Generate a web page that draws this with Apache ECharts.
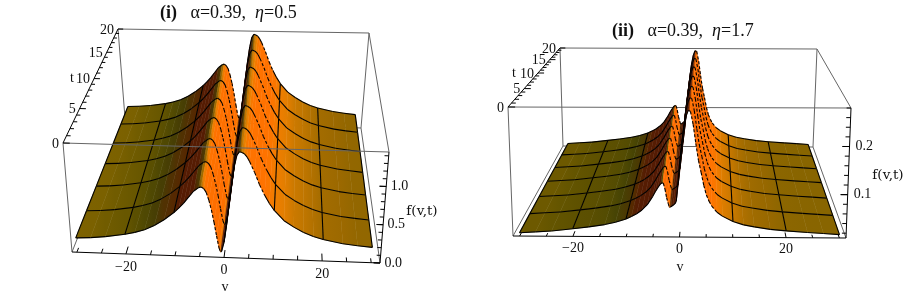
<!DOCTYPE html>
<html><head><meta charset="utf-8">
<style>html,body{margin:0;padding:0;background:#fff}#c{width:905px;height:297px}</style>
<script src="https://cdn.jsdelivr.net/npm/echarts@6/dist/echarts.min.js"></script>
</head><body><div id="c"></div>
<script>
// ---------- data ----------
const tMesh = [0, 3.33, 6.67, 10, 13.33, 16.67, 20];
const vMeshLines = [-30, -20, -10, 0, 10, 20, 30];
const vTicks = [-30, -25, -20, -15, -10, -5, 0, 5, 10, 15, 20, 25, 30];
const vTickLabels = [-20, 0, 20];
const tTicks = [0,1,2,3,4,5,6,7,8,9,10,11,12,13,14,15,16,17,18,19,20];
const tTickLabels = [0, 5, 10, 15, 20];

const panel1V = [-30,-27,-24,-20,-18,-16,-14,-12,-10,-9,-8,-7,-6,-5,-4.5,-4,-3.5,-3,-2.5,-2,-1.5,-1,-0.7,-0.5,0,0.5,1,1.5,2,2.5,3,3.5,4,4.5,5,6,7,8,9,10,12,14,16,18,20,24,27,30];
const panel1F = [0.19,0.20,0.22,0.26,0.29,0.33,0.39,0.47,0.57,0.63,0.70,0.78,0.86,0.91,0.92,0.90,0.85,0.75,0.62,0.46,0.28,0.12,0.07,0.08,0.20,0.42,0.70,0.98,1.20,1.35,1.40,1.39,1.37,1.33,1.27,1.13,0.97,0.84,0.73,0.64,0.51,0.43,0.365,0.315,0.28,0.235,0.215,0.20];
const panel1FTicks = [0,0.1,0.2,0.3,0.4,0.5,0.6,0.7,0.8,0.9,1,1.1,1.2,1.3,1.4];
const panel1FLabels = [0, 0.5, 1];

const panel2V = [-30,-27,-24,-20,-17,-14,-12,-10,-9,-8,-7,-6,-5,-4.5,-4,-3.5,-3.2,-3,-2.7,-2.4,-2.1,-1.9,-1.6,-1.2,-0.8,-0.6,-0.4,0,0.4,0.8,1.2,1.6,2,2.5,3,3.5,4,4.5,5,5.5,6,7,8,10,12,14,17,20,24,27,30];
const panel2F = [0.017,0.019,0.021,0.026,0.030,0.035,0.040,0.047,0.052,0.058,0.066,0.077,0.094,0.104,0.113,0.121,0.123,0.122,0.110,0.092,0.080,0.072,0.073,0.076,0.080,0.085,0.110,0.160,0.205,0.240,0.262,0.274,0.272,0.245,0.205,0.170,0.145,0.118,0.098,0.085,0.075,0.062,0.054,0.043,0.036,0.032,0.027,0.024,0.021,0.019,0.017];
const panel2FTicks = [0.02,0.04,0.06,0.08,0.1,0.12,0.14,0.16,0.18,0.2,0.22,0.24,0.26,0.28];
const panel2FLabels = [0.1, 0.2];

// ---------- layout / style ----------
const panels = [
  { V: panel1V, F: panel1F, fTicks: panel1FTicks, fLabels: panel1FLabels, fDigits: 1,
    vMin:-31, vMax:31.8, fMin:0, fMax:1.45, k:1.3, slopeGain:1, flatShift:0, edgeOverSurface:true,
    TFL:[63,143], TFR:[389,152], TBL:[118,29], TBR:[369,33],
    BFL:[72,252], BFR:[380,263], BBL:[125,118], BBR:[361,128],
    tName:[72,78], vName:[225,287], fName:[422,211], vLabelDy:13, fLabelDx:4.5 },
  { V: panel2V, F: panel2F, fTicks: panel2FTicks, fLabels: panel2FLabels, fDigits: 1,
    vMin:-31.25, vMax:31.25, fMin:0.01, fMax:0.28, k:1.36, slopeGain:1.6, flatShift:0.003, edgeOverSurface:false,
    TFL:[508,107], TFR:[851,108], TBL:[560,48], TBR:[817,49],
    BFL:[513,236], BFR:[846,238], BBL:[563,146], BBR:[813,147],
    tName:[514,73], vName:[680,267], fName:[888,175], vLabelDy:12, fLabelDx:6 }
];
const RAMP = [
  [0.30,[80,22,5]],[0.045,[85,28,3]],[0.035,[86,42,0]],[0.022,[68,66,5]],[0.01,[95,82,0]],
  [0.004,[122,96,0]],[0,[132,100,0]],[-0.006,[155,105,0]],[-0.02,[192,118,0]],[-0.04,[235,128,0]],
  [-0.08,[255,115,0]],[-0.6,[250,100,0]]
];
const GREY='#666', LABEL_FONT='14px "Liberation Serif"', NAME_FONT='13.5px "DejaVu Serif"';
const lerp=(a,b,u)=>[a[0]+(b[0]-a[0])*u, a[1]+(b[1]-a[1])*u];
function project(P,v,t,f){
  const u=(v-P.vMin)/(P.vMax-P.vMin), s0=t/20, s=s0*P.k/(1+s0*(P.k-1)), h=(f-P.fMin)/(P.fMax-P.fMin);
  const bot=lerp(lerp(P.BFL,P.BFR,u),lerp(P.BBL,P.BBR,u),s);
  const top=lerp(lerp(P.TFL,P.TFR,u),lerp(P.TBL,P.TBR,u),s);
  return lerp(bot,top,h);
}
function rampColor(s){
  s=Math.min(RAMP[0][0],Math.max(RAMP[RAMP.length-1][0],s));
  for(let i=0;i<RAMP.length-1;i++){
    const a=RAMP[i],b=RAMP[i+1];
    if(s<=a[0]&&s>=b[0]){
      const u=(a[0]-s)/(a[0]-b[0]);
      return 'rgb('+[0,1,2].map(c=>Math.round(a[1][c]+(b[1][c]-a[1][c])*u)).join(',')+')';
    }
  }
  return 'rgb(132,100,0)';
}
function nodeSlope(P,i){
  const V=P.V,F=P.F,a=Math.max(0,i-1),b=Math.min(V.length-1,i+1);
  return (F[b]-F[a])/(V[b]-V[a])/(P.fMax-P.fMin);
}
function nodeColor(P,i){ return rampColor(nodeSlope(P,i)*P.slopeGain+P.flatShift); }

function surfaceData(P){
  const items=[], n=P.V.length;
  let c=0,best=1e9;
  for(let i=0;i<n;i++){ if(Math.abs(P.V[i])<best){best=Math.abs(P.V[i]);c=i;} }
  const order=[];
  for(let i=0;i<c;i++) order.push(i);
  for(let i=n-2;i>=c;i--) order.push(i);
  for(let j=tMesh.length-2;j>=0;j--){
    order.forEach(i=>items.push([0,i,j]));
    for(let i=0;i<n;i++){ if(vMeshLines.includes(P.V[i])) items.push([2,i,j]); }
    for(let i=0;i<n-1;i++) items.push([1,i,j+1]);
  }
  for(let i=0;i<n-1;i++) items.push([1,i,0]);
  return items;
}
function surfaceRender(P){
  return function(params,api){
    const kind=api.value(0), i=api.value(1), j=api.value(2);
    const pt=(ii,jj)=>api.coord(project(P,P.V[ii],tMesh[jj],P.F[ii]));
    if(kind===0){
      const a=pt(i,j),b=pt(i+1,j),c=pt(i+1,j+1),d=pt(i,j+1);
      const ca=nodeColor(P,i),cb=nodeColor(P,i+1);
      const fill={type:'linear',x:a[0],y:0,x2:Math.abs(b[0]-a[0])<0.01?a[0]+0.01:b[0],y2:0,global:true,
        colorStops:[{offset:0,color:ca},{offset:1,color:cb}]};
      return {type:'polygon',shape:{points:[a,b,c,d]},style:{fill,stroke:fill,lineWidth:0.5}};
    }
    let a,b;
    if(kind===1){ a=pt(i,j); b=pt(i+1,j); }
    else { a=pt(i,j); b=pt(i,j+1); }
    const steep = kind===1 && nodeSlope(P,i)*P.slopeGain < -0.09;
    return {type:'line',shape:{x1:a[0],y1:a[1],x2:b[0],y2:b[1]},
      style:{stroke:'#000',lineWidth:1.1,fill:null,lineDash:steep?[3,2]:null}};
  };
}
function axisData(P,front){
  const L=[];
  const seg=(p,q,color,w)=>L.push({p,q,color,w});
  const c={BFL:[P.vMin,0,P.fMin],BFR:[P.vMax,0,P.fMin],BBL:[P.vMin,20,P.fMin],BBR:[P.vMax,20,P.fMin],
           TFL:[P.vMin,0,P.fMax],TFR:[P.vMax,0,P.fMax],TBL:[P.vMin,20,P.fMax],TBR:[P.vMax,20,P.fMax]};
  if(!front){
    seg(c.BBL,c.BBR,GREY,1); seg(c.TBL,c.BBL,GREY,1); seg(c.TBR,c.BBR,GREY,1);
    seg(c.TBL,c.TBR,GREY,1); seg(c.TBR,c.TFR,GREY,1); seg(c.BFL,c.BBL,GREY,1); seg(c.BFR,c.BBR,GREY,1);
    seg(c.TFL,c.BFL,GREY,1);
    if(!P.edgeOverSurface) seg(c.TFL,c.TFR,GREY,1);
  } else {
    if(P.edgeOverSurface) seg(c.TFL,c.TFR,GREY,1);
    seg(c.BFL,c.BFR,'#000',1); seg(c.BFR,c.TFR,'#000',1); seg(c.TFL,c.TBL,'#000',1);
    vTicks.forEach(v=>{const M=vTickLabels.includes(v); seg([v,0,P.fMin],[v,M?0.85:0.5,P.fMin],'#000',1);});
    tTicks.forEach(t=>{const M=tTickLabels.includes(t); seg([P.vMin,t,P.fMax],[P.vMin+(M?1.3:0.8),t,P.fMax],'#000',1);});
    P.fTicks.concat(P.fLabels).forEach(f=>{const M=P.fLabels.includes(f); seg([P.vMax,0,f],[P.vMax-(M?1.3:0.8),0,f],'#000',1);});
  }
  return L;
}
function lineSeries(P,front,z){
  const L=axisData(P,front);
  return {type:'custom',coordinateSystem:'cartesian2d',silent:true,z,clip:false,
    data:L.map((_,i)=>[i]),
    renderItem(params,api){
      const s=L[api.value(0)];
      const a=api.coord(project(P,...s.p)),b=api.coord(project(P,...s.q));
      return {type:'line',shape:{x1:a[0],y1:a[1],x2:b[0],y2:b[1]},style:{stroke:s.color,lineWidth:s.w,fill:null}};
    }};
}
function labelSeries(P,z){
  const T=[];
  vTickLabels.forEach(v=>{const p=project(P,v,0,P.fMin);T.push([p[0],p[1]+P.vLabelDy,(v<0?'\u2212'+(-v):''+v),LABEL_FONT,'center']);});
  tTickLabels.forEach(t=>{const p=project(P,P.vMin,t,P.fMax);T.push([p[0]-4,p[1]+1,''+t,LABEL_FONT,'right']);});
  P.fLabels.forEach(f=>{const p=project(P,P.vMax,0,f);T.push([p[0]+P.fLabelDx,p[1],f.toFixed(P.fDigits),LABEL_FONT,'left']);});
  T.push([P.tName[0],P.tName[1],'t',LABEL_FONT,'center'],[P.vName[0],P.vName[1],'v',LABEL_FONT,'center'],[P.fName[0],P.fName[1],'f(v,t)',NAME_FONT,'center']);
  return {type:'custom',coordinateSystem:'cartesian2d',silent:true,z,clip:false,
    data:T.map((_,i)=>[i]),
    renderItem(params,api){
      const t=T[api.value(0)], a=api.coord([t[0],t[1]]);
      return {type:'text',x:a[0],y:a[1],style:{text:t[2],font:t[3],fill:'#111',align:t[4],verticalAlign:'middle'}};
    }};
}
const series=[];
panels.forEach(P=>{
  series.push(lineSeries(P,false,1));
  series.push({type:'custom',coordinateSystem:'cartesian2d',silent:true,z:2,clip:false,progressive:0,
    data:surfaceData(P),encode:{x:1,y:2},renderItem:surfaceRender(P)});
  series.push(lineSeries(P,true,3));
  series.push(labelSeries(P,4));
});
const titleRich={
  b:{fontFamily:'Liberation Serif',fontWeight:'bold',fontSize:18,color:'#111'},
  n:{fontFamily:'Liberation Serif',fontWeight:'normal',fontSize:18,color:'#111'},
  i:{fontFamily:'Liberation Serif',fontWeight:'normal',fontStyle:'italic',fontSize:18,color:'#111'}};
const chart=echarts.init(document.getElementById('c'),null,{renderer:'canvas'});
chart.setOption({
  animation:false,backgroundColor:'#fff',
  title:[
    {text:'{b|(i)}{n|   \u03b1=0.39,  }{i|\u03b7}{n|=0.5}',left:155,top:-1,textStyle:{rich:titleRich}},
    {text:'{b|(ii)}{n|   \u03b1=0.39,  }{i|\u03b7}{n|=1.7}',left:607,top:17,textStyle:{rich:titleRich}}
  ],
  grid:{left:0,right:0,top:0,bottom:0},
  xAxis:{type:'value',min:0,max:905,show:false},
  yAxis:{type:'value',min:0,max:297,inverse:true,show:false},
  series
});
</script></body></html>
